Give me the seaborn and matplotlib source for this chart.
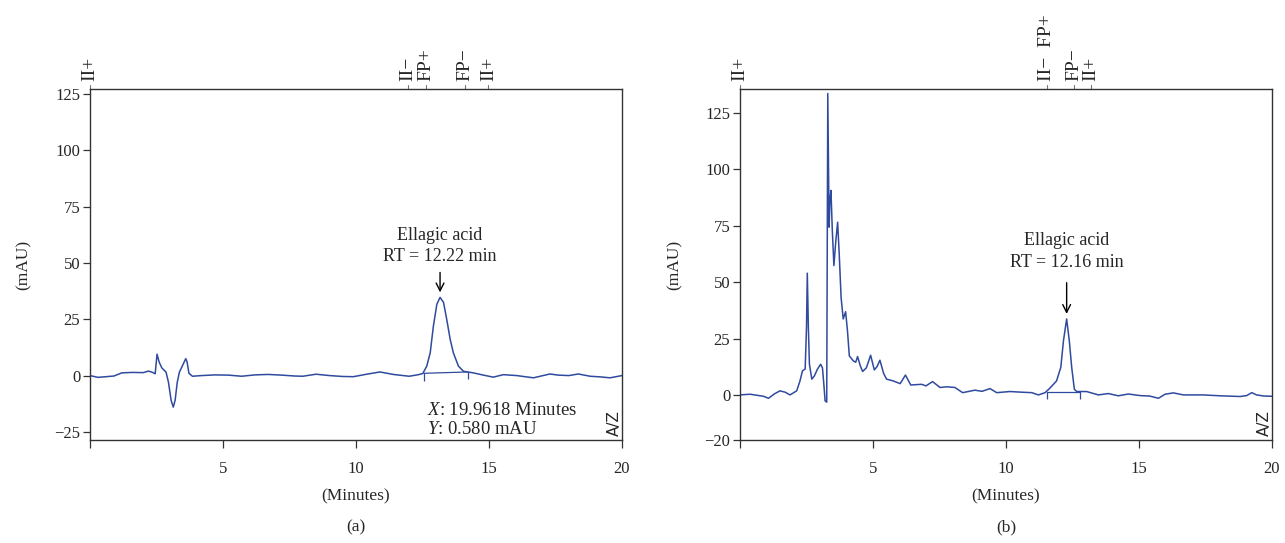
import matplotlib
matplotlib.use("Agg")
import matplotlib.pyplot as plt
import matplotlib.transforms as mtransforms
import seaborn as sns
import pandas as pd

# ---------------- data ----------------
a_time = [0.0, 0.3, 0.6, 0.9, 1.2, 1.6, 2.0, 2.2, 2.35, 2.45, 2.52, 2.6, 2.7, 2.86,
          2.95, 3.05, 3.13, 3.2, 3.28, 3.36, 3.48, 3.6, 3.65, 3.72, 3.85, 4.2, 4.7,
          5.2, 5.7, 6.2, 6.7, 7.2, 7.7, 8.0, 8.5, 9.0, 9.5, 9.9, 10.4, 10.9, 11.4,
          12.0, 12.35, 12.51, 12.66, 12.79, 12.91, 13.04, 13.16, 13.29, 13.41, 13.54,
          13.66, 13.85, 14.04, 14.41, 14.79, 15.16, 15.54, 16.04, 16.67, 17.29, 17.6,
          18.0, 18.36, 18.8, 19.2, 19.55, 20.0]
a_mau = [0.0, -0.8, -0.5, -0.2, 1.2, 1.4, 1.3, 2.0, 1.4, 0.8, 9.5, 6.0, 3.4, 1.5,
         -3.0, -11.0, -14.0, -11.0, -3.0, 1.5, 4.5, 7.5, 6.0, 1.0, -0.3, 0.0, 0.3,
         0.2, -0.3, 0.3, 0.5, 0.2, -0.2, -0.3, 0.6, 0.0, -0.4, -0.5, 0.6, 1.6, 0.5,
         -0.3, 0.4, 0.9, 4.2, 10.1, 22.0, 31.7, 34.7, 32.5, 25.0, 16.1,
         10.1, 4.2, 1.9, 1.2, 0.2, -0.7, 0.4, 0.0, -1.0, 0.7, 0.2,
         0.0, 0.7, -0.3, -0.6, -1.0, 0.0]

b_time = [0.0, 0.38, 0.88, 1.07, 1.3, 1.5, 1.7, 1.88, 2.13, 2.25, 2.35, 2.45, 2.5,
          2.53, 2.57, 2.61, 2.7, 2.8, 2.91, 3.03, 3.1, 3.15, 3.2, 3.26, 3.3, 3.35,
          3.38, 3.42, 3.47, 3.53, 3.6, 3.67, 3.73, 3.8, 3.88, 3.97, 4.04, 4.11, 4.26,
          4.35, 4.42, 4.52, 4.61, 4.75, 4.91, 5.05, 5.15, 5.26, 5.4, 5.51, 5.76, 6.02,
          6.22, 6.42, 6.83, 6.99, 7.24, 7.52, 7.77, 8.08, 8.37, 8.83, 9.1, 9.4, 9.65,
          10.15, 10.6, 10.97, 11.22, 11.47, 11.65, 11.9, 12.06, 12.16, 12.28, 12.38,
          12.47, 12.57, 12.66, 13.03, 13.47, 13.85, 14.22, 14.6, 15.04, 15.4, 15.73,
          15.98, 16.29, 16.67, 17.42, 18.05, 18.8, 19.05, 19.24, 19.42, 19.7, 20.0]
b_mau = [0.0, 0.3, -0.6, -1.5, 0.5, 1.8, 1.2, 0.0, 1.8, 6.0, 10.7, 11.5, 30.0,
         54.0, 30.0, 13.6, 7.0, 8.5, 11.4, 13.6, 12.0, 5.0, -2.7, -3.2, 133.7, 74.4,
         86.3, 90.7, 73.0, 57.4, 68.0, 76.6, 62.6, 43.3, 33.7, 36.9, 28.5, 17.3, 15.1,
         14.5, 17.0, 13.0, 10.4, 12.0, 17.6, 11.1, 12.5, 15.4, 9.5, 7.0, 6.2, 5.0,
         8.8, 4.4, 4.7, 4.0, 5.9, 3.3, 3.6, 3.3, 1.0, 2.1, 1.6, 2.8, 1.0,
         1.5, 1.2, 1.0, 0.0, 1.0, 3.0, 6.2, 12.2, 24.0, 33.7, 24.0,
         12.2, 2.5, 1.5, 1.5, 0.0, 0.6, -0.4, 0.4, -0.3, -0.5, -1.5,
         0.3, 0.9, 0.0, 0.0, -0.4, -0.7, -0.3, 1.0, 0.0, -0.5, -0.6]

# integration baselines (start/end time and level)
a_base_time = [12.55, 14.2]
a_base_mau = [1.0, 1.6]
b_base_time = [11.53, 12.78]
b_base_mau = [1.3, 1.3]

# event markers on top axis
a_events = [0.0, 11.96, 12.62, 14.1, 14.98]
a_event_labels = ["II+", "II\u2212", "FP+", "FP\u2212", "II+"]
b_events = [0.0, 11.54, 12.56, 13.2]
b_event_labels = ["II+", "II\u2212  FP+", "FP\u2212", "II+"]

a_peak_time, a_peak_mau = 13.16, 34.7
b_peak_time, b_peak_mau = 12.28, 33.7
a_peak_label = "Ellagic acid\nRT = 12.22 min"
b_peak_label = "Ellagic acid\nRT = 12.16 min"

a_yticks = [-25, 0, 25, 50, 75, 100, 125]
b_yticks = [-20, 0, 25, 50, 75, 100, 125]
xticks = [0, 5, 10, 15, 20]
xticklabels = ["", "5", "10", "15", "20"]

# ---------------- style ----------------
sns.set_theme(style="ticks")
plt.rcParams["font.family"] = ["Liberation Serif", "DejaVu Serif"]
plt.rcParams["mathtext.fontset"] = "custom"
plt.rcParams["mathtext.rm"] = "Liberation Serif"
plt.rcParams["mathtext.it"] = "Liberation Serif:italic"

LINE = "#2f4a9e"
SPINE = "#333333"
FS = 12

fig = plt.figure(figsize=(12.85, 5.43), dpi=100)
W, H = 1285, 543
ax_a = fig.add_axes([90 / W, 1 - 440 / H, 532 / W, 351 / H])
ax_b = fig.add_axes([740 / W, 1 - 440 / H, 532 / W, 351 / H])


def draw(ax, t, v, base_t, base_v, ylim, yticks, events, ev_labels,
         peak_t, peak_v, peak_label, label_y, arrow_top, tag):
    df = pd.DataFrame({"t": t, "v": v})
    sns.lineplot(data=df, x="t", y="v", ax=ax, color=LINE, linewidth=1.1,
                 estimator=None, sort=False)
    # integration baseline
    ax.plot(base_t, base_v, color=LINE, linewidth=0.9)
    ax.vlines(base_t, [b - 3.2 for b in base_v], base_v, color=LINE, linewidth=0.9)

    ax.set_xlim(0, 20)
    ax.set_ylim(*ylim)
    ax.set_xticks(xticks)
    ax.set_xticklabels(xticklabels, fontsize=FS)
    ax.set_yticks(yticks)
    ax.set_yticklabels([str(y) if y >= 0 else "\u2212" + str(-y) for y in yticks],
                       fontsize=FS)
    ax.tick_params(axis="x", direction="out", length=6, width=0.9, pad=9,
                   color=SPINE)
    ax.tick_params(axis="y", direction="out", length=5, width=0.9, pad=2,
                   color=SPINE)
    for s in ax.spines.values():
        s.set_visible(True)
        s.set_color(SPINE)
        s.set_linewidth(1.0)
    ax.set_xlabel("(Minutes)", fontsize=FS + 0.5, labelpad=8)
    ax.set_ylabel("(mAU)", fontsize=FS + 0.5, labelpad=16)
    ax.grid(False)

    # event labels on top
    tr = mtransforms.blended_transform_factory(ax.transData, ax.transAxes)
    for x, lab in zip(events, ev_labels):
        ax.text(x, 1.022, lab, rotation=90, ha="center", va="bottom",
                fontsize=14, transform=tr, clip_on=False)
        ax.plot([x, x], [1.0, 1.012], transform=tr, color="#777777",
                linewidth=0.8, clip_on=False)

    # peak annotation
    ax.annotate("", xy=(peak_t, peak_v + 1.0), xytext=(peak_t, arrow_top),
                arrowprops=dict(arrowstyle="->", color="black", lw=1.0,
                                mutation_scale=14))
    ax.text(peak_t, label_y, peak_label, ha="center", va="center",
            fontsize=FS + 1, linespacing=1.35)

    ax.text(0.985, 0.01, "A/Z", rotation=90, transform=ax.transAxes,
            ha="center", va="bottom", fontsize=11, family="DejaVu Sans")
    ax.text(0.5, -0.25, tag, transform=ax.transAxes, ha="center", va="center",
            fontsize=FS + 0.5)


draw(ax_a, a_time, a_mau, a_base_time, a_base_mau, (-28.6, 127.2), a_yticks,
     a_events, a_event_labels, a_peak_time, a_peak_mau, a_peak_label, 57.5, 47,
     "(a)")
draw(ax_b, b_time, b_mau, b_base_time, b_base_mau, (-20, 135.7), b_yticks,
     b_events, b_event_labels, b_peak_time, b_peak_mau, b_peak_label, 63.5, 51,
     "(b)")

ax_a.text(12.67, -15.5, "$X$: 19.9618 Minutes", fontsize=FS + 1.5, ha="left",
          va="center")
ax_a.text(12.67, -24.0, "$Y$: 0.580 mAU", fontsize=FS + 1.5, ha="left",
          va="center")

fig.savefig("out.png", dpi=100)
